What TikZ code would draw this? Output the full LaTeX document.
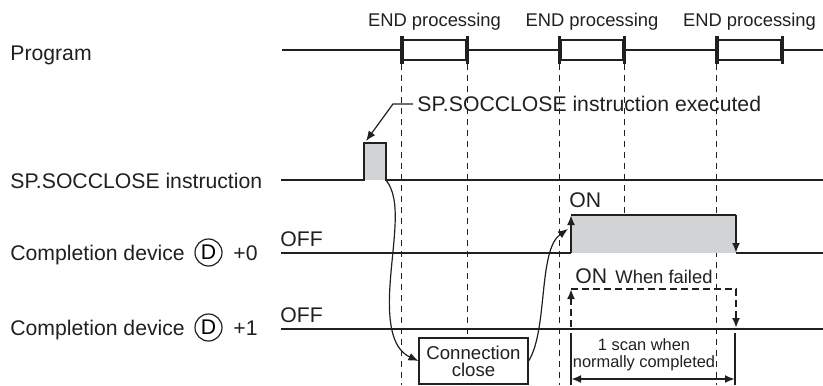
\documentclass[tikz,border=0pt]{standalone}
\usepackage{fontspec}
\setmainfont{Liberation Sans}
\usetikzlibrary{arrows.meta, positioning, calc}
\definecolor{sigblack}{HTML}{231F20}
\definecolor{sigfill}{HTML}{D2D3D5}

\begin{document}
\begin{tikzpicture}[
  x=0.5pt, y=-0.5pt,
  sig/.style={draw=sigblack, line width=1.1pt},
  sigdash/.style={draw=sigblack, line width=1.1pt, dash pattern=on 3.5pt off 2pt},
  guide/.style={draw=sigblack, line width=0.5pt, dash pattern=on 3pt off 2.5pt},
  endbox/.style={draw=sigblack, line width=1.1pt, minimum width=31.5pt, minimum height=10pt, inner sep=0pt, fill=white},
  lbl/.style={font=\fontsize{10.6}{12}\selectfont, text=sigblack, inner sep=0pt, anchor=base west},
  small/.style={font=\fontsize{9.2}{11}\selectfont, text=sigblack, inner sep=0pt, anchor=base},
  devD/.style={draw=sigblack, circle, line width=0.6pt, minimum size=13.5pt, inner sep=0pt, font=\fontsize{10.6}{12}\selectfont},
  thinline/.style={draw=sigblack, line width=0.6pt},
  tip/.style={-{Latex[length=5pt,width=4pt]}}
]
\useasboundingbox (0,0) rectangle (823,385);

% row labels
\node[lbl] (prog) at (10,61) {Program};
\node[lbl] (inst) at (10,188) {SP.SOCCLOSE instruction};
\node[lbl] (dev0) at (10,260) {Completion device};
\node[devD] (dev0c) at (208.5,252.5) {D};
\node[lbl] (dev0n) at (233,260) {+0};
\node[lbl] (dev1) at (10,335) {Completion device};
\node[devD] (dev1c) at (208.5,327.5) {D};
\node[lbl] (dev1n) at (233,335) {+1};
\node[lbl] (off0) at (280,246) {OFF};
\node[lbl] (off1) at (280,322) {OFF};

% END processing boxes on the program line
\node[endbox] (e1) at (434.5,50) {};
\node[endbox] (e2) at (592,50) {};
\node[endbox] (e3) at (749.5,50) {};
\foreach \b in {e1,e2,e3} {
  \node[small] at (\b.center |- 0,27) {END processing};
  \draw[sig, line width=1.6pt] ([yshift=1.5pt]\b.north west) -- ([yshift=-1.5pt]\b.south west);
  \draw[sig, line width=1.6pt] ([yshift=1.5pt]\b.north east) -- ([yshift=-1.5pt]\b.south east);
}
\draw[sig] (282,50) -- (e1.west);
\draw[sig] (e1.east) -- (e2.west);
\draw[sig] (e2.east) -- (e3.west);
\draw[sig] (e3.east) -- (823,50);

% scan guides
\draw[guide] ([yshift=-1.5pt]e1.south west) -- (e1.south west |- 0,385);
\draw[guide] ([yshift=-1.5pt]e1.south east) -- (e1.south east |- 0,385);
\draw[guide] ([yshift=-1.5pt]e2.south west) -- (e2.south west |- 0,385);
\draw[guide] ([yshift=-1.5pt]e2.south east) -- (e2.south east |- 0,253);
\draw[guide] ([yshift=-1.5pt]e3.south west) -- (e3.south west |- 0,385);

% instruction pulse
\fill[sigfill] (364,180) rectangle (386,143);
\draw[sig] (281,180) -- (364,180) -- (364,143) -- (386,143) -- (386,180) -- (823,180);
\coordinate (ptop) at (366,141);
\coordinate (pb) at (386,180);

\node[lbl] (exe) at (417,111.5) {SP.SOCCLOSE instruction executed};
\draw[thinline, tip] ([xshift=-2pt]exe.west) -- ++(-20,0) -- (ptop);

% completion device +0
\fill[sigfill] (571,215) rectangle (736,253);
\draw[sig] (281,253) -- (571,253);
\draw[sig, tip] (571,253) -- (571,215);
\draw[sig] (571,215) -- (736,215);
\draw[sig, tip] (736,215) -- (736,253);
\draw[sig] (736,253) -- (823,253);
\node[lbl] (on0) at (569,207) {ON};
\coordinate (rise) at (568,229);

% completion device +1
\draw[sig] (281,329) -- (823,329);
\draw[sigdash, tip] (571,327) -- (571,289);
\draw[sigdash, tip] (571,289) -- (736,289) -- (736,328);
\node[lbl] (on1) at (575,283) {ON};
\node[small, anchor=base west] (fail) at (615,283) {When failed};

% one scan span
\draw[sig] (571,333) -- (571,385);
\draw[sig] (735,333) -- (735,385);
\coordinate (s1) at (571,379);
\coordinate (s2) at (735,379);
\draw[sig, {Latex[length=5pt,width=4pt]}-{Latex[length=5pt,width=4pt]}] (s1) -- (s2);
\node[font=\fontsize{8.2}{8.6}\selectfont, text=sigblack, align=center, inner sep=0pt] (scan) at (644,355) {1 scan when\\normally completed};

% connection close
\node[draw=sigblack, line width=0.6pt, fill=white, minimum width=54.5pt, minimum height=23pt, inner sep=0pt, align=center, font=\fontsize{9.3}{8.6}\selectfont, text=sigblack] (cclose) at (473.5,361) {Connection\\close};
\draw[thinline, tip] (pb) .. controls (402,200) and (393,240) .. (390,285) .. controls (387,330) and (395,350) .. (cclose.west);
\draw[thinline, tip] (cclose.east) .. controls (548,330) and (538,250) .. (rise);
\end{tikzpicture}
\end{document}
